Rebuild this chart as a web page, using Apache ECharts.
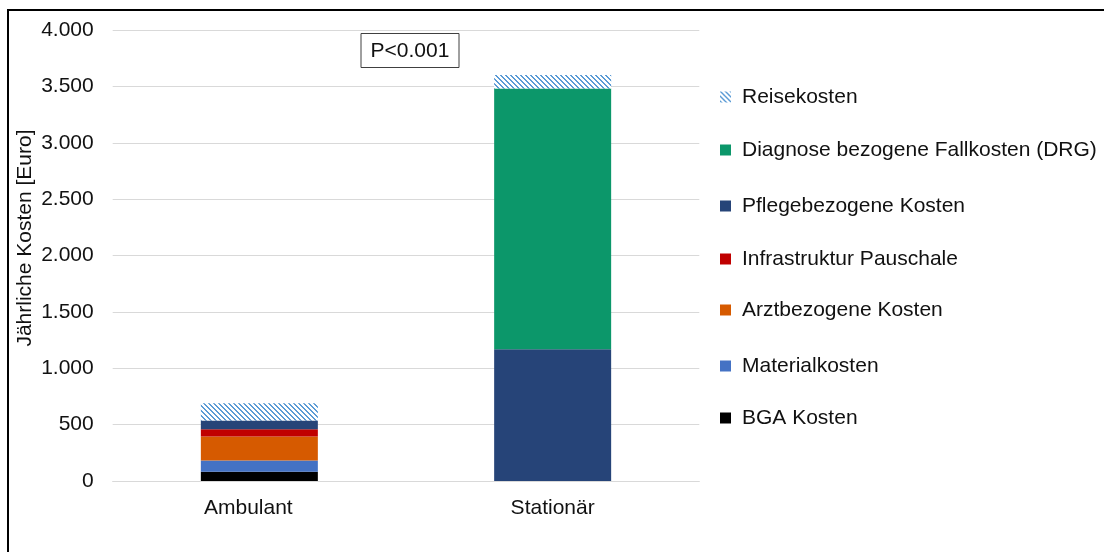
<!DOCTYPE html>
<html>
<head>
<meta charset="utf-8">
<script src="https://cdn.jsdelivr.net/npm/echarts@6/dist/echarts.min.js"></script>
<style>
  html, body { margin: 0; padding: 0; background: #ffffff; }
  #chart { width: 1104px; height: 552px; }
</style>
</head>
<body>
<div id="chart"></div>
<script>
// Annual costs per setting, stacked by cost type (Euro)
const categories = ['Ambulant', 'Stationär'];
const bgaKosten       = [83, 0];
const materialkosten  = [98, 0];
const arztKosten      = [213, 0];
const infrastruktur   = [66, 0];
const pflegeKosten    = [76, 1169];
const drgKosten       = [0, 2315];
const reisekosten     = [154, 120];
const yTicks = { min: 0, max: 4000, step: 500 };
const pValueText = 'P<0.001';

const FONT = '"Liberation Sans", Arial, sans-serif';
const TEXT = '#111111';

// Diagonal hatch tile ("\" direction) for travel costs
function hatchPattern() {
  const n = 5;
  const c = document.createElement('canvas');
  c.width = n; c.height = n;
  const ctx = c.getContext('2d');
  ctx.fillStyle = '#ffffff';
  ctx.fillRect(0, 0, n, n);
  ctx.fillStyle = '#5B9BD5';
  for (let y = 0; y < n; y++) {
    for (let x = 0; x < n; x++) {
      const d = ((x - y) % n + n) % n;
      if (d === 0 || d === 1) ctx.fillRect(x, y, 1, 1);
    }
  }
  return { image: c, repeat: 'repeat' };
}

function fmtThousands(v) {
  return String(v).replace(/\B(?=(\d{3})+(?!\d))/g, '.');
}

const seriesDefs = [
  { name: 'BGA Kosten', data: bgaKosten, color: '#000000', legendY: 418 },
  { name: 'Materialkosten', data: materialkosten, color: '#4472C4', legendY: 366 },
  { name: 'Arztbezogene Kosten', data: arztKosten, color: '#D65A00', legendY: 310 },
  { name: 'Infrastruktur Pauschale', data: infrastruktur, color: '#C00000', legendY: 259 },
  { name: 'Pflegebezogene Kosten', data: pflegeKosten, color: '#264478', legendY: 206 },
  { name: 'Diagnose bezogene Fallkosten (DRG)', data: drgKosten, color: '#0C976A', legendY: 150 },
  { name: 'Reisekosten', data: reisekosten, color: hatchPattern(), legendY: 97 }
];

const chart = echarts.init(document.getElementById('chart'), null, { renderer: 'canvas' });

const legends = seriesDefs.map(s => ({
  data: [s.name],
  orient: 'vertical',
  left: 720,
  top: s.legendY - 11,
  itemWidth: 11,
  itemHeight: 11,
  icon: 'rect',
  selectedMode: false,
  padding: 0,
  textStyle: {
    fontFamily: FONT,
    fontSize: 21,
    color: TEXT,
    lineHeight: 22,
    padding: [0, 0, 0, 6]
  }
}));

chart.setOption({
  animation: false,
  backgroundColor: '#ffffff',
  grid: { left: 112.7, right: 404.7, top: 30.3, bottom: 71 },
  legend: legends,
  xAxis: {
    type: 'category',
    data: categories,
    axisLine: { show: true, lineStyle: { color: '#D9D9D9', width: 1 } },
    axisTick: { show: false },
    axisLabel: {
      margin: 17,
      fontFamily: FONT,
      fontSize: 21,
      color: TEXT,
      formatter: v => v === 'Ambulant' ? '{a|' + v + '}' : v,
      rich: { a: { fontFamily: FONT, fontSize: 21, color: TEXT, padding: [0, 22, 0, 0] } }
    }
  },
  yAxis: {
    type: 'value',
    min: yTicks.min,
    max: yTicks.max,
    interval: yTicks.step,
    axisLine: { show: false },
    axisTick: { show: false },
    splitLine: { lineStyle: { color: '#D9D9D9', width: 1 } },
    axisLabel: {
      margin: 19,
      fontFamily: FONT,
      fontSize: 21,
      color: TEXT,
      formatter: v => fmtThousands(v)
    }
  },
  series: seriesDefs.map(s => ({
    name: s.name,
    type: 'bar',
    stack: 'kosten',
    barWidth: 117,
    data: s.data,
    itemStyle: { color: s.color },
    emphasis: { disabled: true }
  })),
  graphic: [
    {
      type: 'rect',
      silent: true,
      shape: { x: 8, y: 10, width: 1110, height: 560 },
      style: { fill: 'none', stroke: '#000000', lineWidth: 2 }
    },
    {
      type: 'text',
      silent: true,
      x: 25,
      y: 238,
      rotation: Math.PI / 2,
      style: {
        text: 'Jährliche Kosten [Euro]',
        font: '21px ' + FONT,
        fill: TEXT,
        align: 'center',
        verticalAlign: 'middle'
      }
    },
    {
      type: 'group',
      silent: true,
      left: 360.5,
      top: 33,
      children: [
        {
          type: 'rect',
          shape: { x: 0.5, y: 0.5, width: 98, height: 34 },
          style: { fill: '#ffffff', stroke: '#404040', lineWidth: 1 }
        },
        {
          type: 'text',
          x: 49.5,
          y: 18,
          style: {
            text: pValueText,
            font: '21px ' + FONT,
            fill: TEXT,
            align: 'center',
            verticalAlign: 'middle'
          }
        }
      ]
    }
  ]
});
</script>
</body>
</html>
